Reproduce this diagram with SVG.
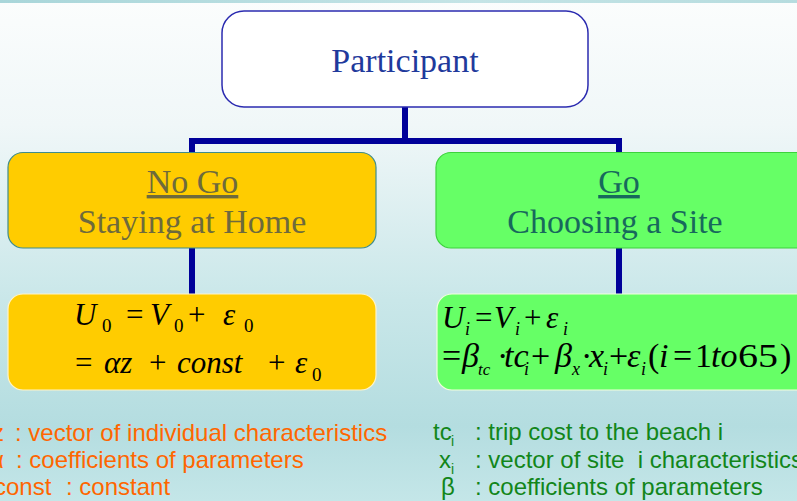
<svg xmlns="http://www.w3.org/2000/svg" width="797" height="501" viewBox="0 0 797 501">
<defs>
<linearGradient id="bg" x1="0" y1="0" x2="0" y2="1">
<stop offset="0" stop-color="#fbfdfd"/>
<stop offset="0.25" stop-color="#f0f7f8"/>
<stop offset="0.6" stop-color="#c9e7e9"/>
<stop offset="0.85" stop-color="#b4dde0"/>
<stop offset="1" stop-color="#c4e6e8"/>
</linearGradient>
<linearGradient id="strip" x1="0" y1="0" x2="1" y2="0">
<stop offset="0" stop-color="#a9d6da"/>
<stop offset="0.6" stop-color="#c4e4e6"/>
<stop offset="1" stop-color="#b6dcdf"/>
</linearGradient>
</defs>
<style>
.serif{font-family:"Liberation Serif","Times New Roman",serif}
.head{font-size:34px;text-anchor:middle}
.math{font-family:"Liberation Serif","Times New Roman",serif;fill:#000}
.it{font-style:italic}
.sans{font-family:"Liberation Sans",Arial,sans-serif;font-size:24px}
.conn{fill:none;stroke:#000099;stroke-width:6;stroke-linejoin:miter}
</style>
<rect x="0" y="0" width="797" height="501" fill="url(#bg)"/>
<rect x="0" y="0" width="797" height="3" fill="url(#strip)"/>

<g id="connectors">
<path class="conn" d="M405,107 V141"/>
<path class="conn" d="M192,153 V141 H619 V153"/>
<path class="conn" d="M192,248 V294"/>
<path class="conn" d="M619,248 V294"/>
</g>

<g id="participant">
<rect x="222" y="11" width="366" height="96" rx="22" fill="#ffffff" stroke="#2b2bb0" stroke-width="1.5"/>
<text class="serif head" x="405" y="72" fill="#1f3a9c">Participant</text>
</g>

<g id="nogo">
<rect x="8" y="152.5" width="368" height="95.5" rx="15" fill="#ffcc00" stroke="#3f8c8c" stroke-width="1.2"/>
<text class="serif head" x="192.5" y="193" fill="#6e6a3c" text-decoration="underline">No Go</text>
<text class="serif head" x="192" y="233" fill="#6e6a3c">Staying at Home</text>
</g>

<g id="go">
<rect x="436" y="152.5" width="380" height="95.5" rx="15" fill="#66ff66" stroke="#3cd23c" stroke-width="1.2"/>
<text class="serif head" x="619" y="193" fill="#17695c" text-decoration="underline">Go</text>
<text class="serif head" x="615" y="233" fill="#17695c">Choosing a Site</text>
</g>

<g id="nogo-utility">
<rect x="8" y="294" width="368" height="96" rx="15" fill="#ffcc00" stroke="#fff4c8" stroke-width="1.2"/>
<g class="math" font-size="31">
<text x="74" y="325" class="it">U</text>
<text x="102" y="332" font-size="19">0</text>
<text x="126" y="325">=</text>
<text x="150" y="325" class="it">V</text>
<text x="174" y="332" font-size="19">0</text>
<text x="188" y="325">+</text>
<text x="223" y="325" class="it">ε</text>
<text x="244" y="332" font-size="19">0</text>
<text x="75" y="373">=</text>
<text x="104" y="373" class="it">αz</text>
<text x="149" y="373">+</text>
<text x="177" y="373" class="it">const</text>
<text x="268" y="373">+</text>
<text x="295" y="373" class="it">ε</text>
<text x="312" y="381" font-size="19">0</text>
</g>
</g>

<g id="go-utility">
<rect x="437" y="294" width="380" height="96" rx="15" fill="#66ff66" stroke="#f2ffdc" stroke-width="1.2"/>
<g class="math" font-size="31">
<text x="442" y="328" class="it">U</text>
<text x="465" y="335" class="it" font-size="18">i</text>
<text x="475" y="328">=</text>
<text x="494" y="328" class="it">V</text>
<text x="515" y="335" class="it" font-size="18">i</text>
<text x="524" y="328">+</text>
<text x="546" y="328" class="it">ε</text>
<text x="563" y="335" class="it" font-size="18">i</text>
</g>
<g class="math" font-size="34">
<text x="442" y="367">=</text>
<text x="462" y="367" class="it">β</text>
<text x="478" y="375" class="it" font-size="17">tc</text>
<text x="497" y="367">·</text>
<text x="504" y="367" class="it">tc</text>
<text x="524" y="375" class="it" font-size="18">i</text>
<text x="531" y="367">+</text>
<text x="555" y="367" class="it">β</text>
<text x="572" y="375" class="it" font-size="18">x</text>
<text x="581" y="367">·</text>
<text x="589" y="367" class="it">x</text>
<text x="603" y="375" class="it" font-size="18">i</text>
<text x="609" y="367">+</text>
<text x="627" y="367" class="it">ε</text>
<text x="641" y="375" class="it" font-size="18">i</text>
<text x="648" y="367">(</text>
<text x="659" y="367" class="it">i</text>
<text x="673" y="367">=</text>
<text x="695" y="367">1</text>
<text x="711" y="367" class="it">to</text>
<text x="738" y="367" textLength="40" lengthAdjust="spacingAndGlyphs">65</text>
<text x="780" y="367">)</text>
</g>
</g>

<g id="legend-left" class="sans" fill="#ff6600">
<text x="-8" y="441">z</text><text x="15" y="441">: vector of individual characteristics</text>
<text x="-10" y="468">α</text><text x="16" y="468">: coefficients of parameters</text>
<text x="-6" y="495">const</text><text x="66" y="495">: constant</text>
</g>

<g id="legend-right" class="sans" fill="#12861a">
<text x="433" y="440">tc</text><text x="451" y="446" font-size="14">i</text><text x="475" y="440">: trip cost to the beach i</text>
<text x="439" y="468">x</text><text x="451" y="474" font-size="14">i</text><text x="475" y="468" xml:space="preserve">: vector of site  i characteristics</text>
<text x="441" y="495">β</text><text x="475" y="495">: coefficients of parameters</text>
</g>
</svg>
